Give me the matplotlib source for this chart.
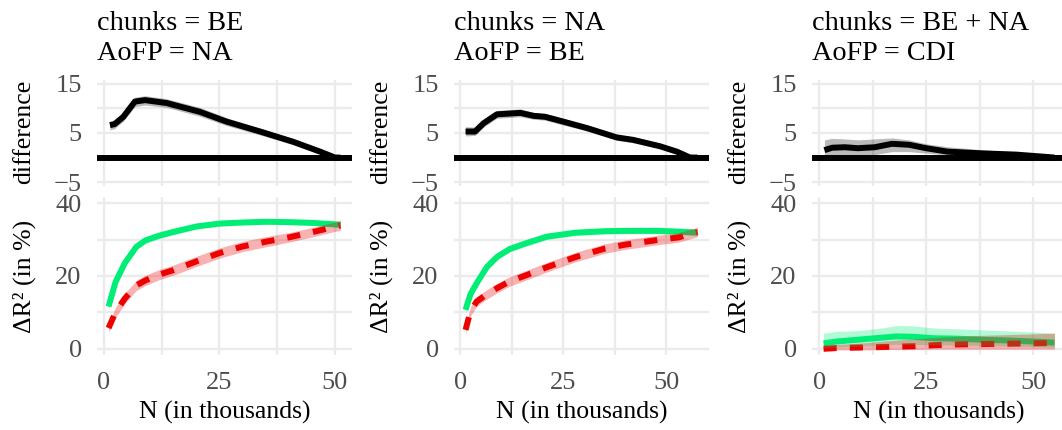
import matplotlib
matplotlib.use("Agg")
import matplotlib.pyplot as plt
import numpy as np

# ---------------- data ----------------
titles = [("chunks = BE", "AoFP = NA"),
          ("chunks = NA", "AoFP = BE"),
          ("chunks = BE + NA", "AoFP = CDI")]

# panel 1
n_diff_1 = [1.3, 2.3, 4.2, 6.7, 8.9, 13.6, 20.8, 26.6, 33.8, 41.0, 46.8, 50.0, 51.2]
diff_1 = [6.6, 6.8, 8.3, 11.4, 11.7, 11.1, 9.3, 7.3, 5.3, 3.2, 1.2, 0.0, 0.0]
diff_lo_1 = [5.6, 5.9, 7.4, 10.4, 10.7, 10.2, 8.4, 6.5, 4.6, 2.6, 0.7, -0.2, -0.2]
diff_hi_1 = [7.4, 7.7, 9.2, 12.3, 12.6, 12.0, 10.2, 8.1, 6.0, 3.8, 1.7, 0.3, 0.2]
n_1 = [1, 2.5, 4.5, 7, 9, 12, 15, 20, 25, 30, 35, 40, 45, 51.2]
green_1 = [11.6, 18.3, 23.5, 28.0, 29.8, 31.1, 32.1, 33.6, 34.4, 34.7, 34.9, 34.8, 34.6, 34.1]
green_lo_1 = [10.9, 17.5, 22.7, 27.2, 29.0, 30.3, 31.3, 32.9, 33.7, 34.0, 34.2, 34.1, 33.9, 33.3]
green_hi_1 = [12.3, 19.1, 24.3, 28.8, 30.6, 31.9, 32.9, 34.4, 35.2, 35.5, 35.6, 35.5, 35.3, 34.9]
red_1 = [5.7, 10.0, 13.8, 17.4, 18.8, 20.4, 21.6, 24.0, 26.3, 28.1, 29.4, 30.6, 32.0, 33.9]
red_lo_1 = [4.6, 8.6, 12.4, 16.0, 17.4, 19.0, 20.2, 22.6, 24.9, 26.7, 28.0, 29.3, 30.7, 32.6]
red_hi_1 = [6.8, 11.4, 15.2, 18.8, 20.2, 21.8, 23.0, 25.4, 27.7, 29.5, 30.8, 31.9, 33.3, 35.2]

# panel 2
n_diff_2 = [1.3, 3.6, 5.7, 8.9, 14.6, 17.8, 20.6, 25.1, 30.8, 38.0, 42.0, 48.5, 52.6, 55.8, 57.6]
diff_2 = [5.3, 5.3, 7.0, 8.8, 9.1, 8.5, 8.3, 7.3, 6.0, 4.1, 3.6, 2.3, 1.2, 0.0, 0.0]
diff_lo_2 = [4.4, 4.5, 6.2, 8.0, 8.3, 7.8, 7.6, 6.6, 5.4, 3.5, 3.0, 1.8, 0.7, -0.2, -0.2]
diff_hi_2 = [6.3, 6.2, 7.8, 9.6, 9.9, 9.2, 9.0, 8.0, 6.6, 4.7, 4.2, 2.8, 1.7, 0.3, 0.2]
n_2 = [1.3, 2.5, 4, 6.5, 9, 12, 16, 21, 28, 35, 40, 48, 53, 57.6]
green_2 = [10.7, 15.0, 18.0, 22.5, 25.3, 27.4, 29.0, 30.8, 31.9, 32.3, 32.4, 32.4, 32.2, 31.9]
green_lo_2 = [9.9, 14.2, 17.2, 21.7, 24.5, 26.6, 28.2, 30.0, 31.1, 31.5, 31.6, 31.6, 31.4, 31.1]
green_hi_2 = [11.5, 15.8, 18.8, 23.3, 26.1, 28.2, 29.8, 31.6, 32.7, 33.1, 33.2, 33.2, 33.0, 32.7]
red_2 = [5.2, 10.3, 13.0, 15.0, 16.7, 18.5, 20.2, 22.4, 25.2, 27.5, 28.6, 29.9, 30.6, 32.1]
red_lo_2 = [4.1, 9.0, 11.7, 13.7, 15.4, 17.2, 18.9, 21.1, 23.9, 26.2, 27.3, 28.6, 29.3, 30.8]
red_hi_2 = [6.3, 11.6, 14.3, 16.3, 18.0, 19.8, 21.5, 23.7, 26.5, 28.8, 29.9, 31.2, 31.9, 33.4]

# panel 3
n_diff_3 = [1.2, 3, 6, 9, 13, 17, 21, 25, 30, 38, 46, 55]
diff_3 = [1.5, 2.0, 2.1, 1.9, 2.1, 2.8, 2.6, 1.9, 1.2, 0.85, 0.6, 0.0]
diff_lo_3 = [0.0, 0.2, 0.5, 0.4, 0.6, 1.2, 1.2, 0.9, 0.5, 0.3, 0.2, 0.0]
diff_hi_3 = [3.6, 3.9, 3.8, 3.6, 3.8, 4.0, 3.6, 2.8, 2.2, 1.6, 1.0, 0.2]
n_3 = [1, 4, 7, 11, 15, 18, 22, 27, 32, 38, 44, 50, 55]
green_3 = [1.5, 2.0, 2.3, 2.7, 3.1, 3.4, 3.3, 2.9, 2.8, 2.5, 2.3, 2.0, 1.7]
green_lo_3 = [0.3, 0.5, 0.6, 0.8, 1.0, 1.2, 1.2, 1.1, 1.0, 0.9, 0.8, 0.6, 0.4]
green_hi_3 = [4.3, 4.8, 4.9, 5.2, 5.8, 6.4, 6.3, 5.7, 5.5, 5.2, 4.9, 4.6, 4.3]
red_3 = [0.0, 0.2, 0.3, 0.4, 0.5, 0.6, 0.7, 1.0, 1.2, 1.3, 1.4, 1.5, 1.6]
red_lo_3 = [-0.3, -0.3, -0.3, -0.3, -0.2, -0.2, -0.2, -0.1, -0.1, -0.1, -0.1, -0.1, -0.1]
red_hi_3 = [0.9, 1.2, 1.4, 1.7, 2.1, 2.4, 2.7, 3.1, 3.4, 3.7, 3.9, 4.1, 4.3]

panels = [
    dict(nd=n_diff_1, d=diff_1, dlo=diff_lo_1, dhi=diff_hi_1, n=n_1,
         g=green_1, glo=green_lo_1, ghi=green_hi_1, r=red_1, rlo=red_lo_1, rhi=red_hi_1,
         xlim=(-1.5, 53.7)),
    dict(nd=n_diff_2, d=diff_2, dlo=diff_lo_2, dhi=diff_hi_2, n=n_2,
         g=green_2, glo=green_lo_2, ghi=green_hi_2, r=red_2, rlo=red_lo_2, rhi=red_hi_2,
         xlim=(-1.5, 60.4)),
    dict(nd=n_diff_3, d=diff_3, dlo=diff_lo_3, dhi=diff_hi_3, n=n_3,
         g=green_3, glo=green_lo_3, ghi=green_hi_3, r=red_3, rlo=red_lo_3, rhi=red_hi_3,
         xlim=(-1.7, 57.7)),
]

x_major = [0, 25, 50]
x_minor = [12.5, 37.5]
diff_major = [-5, 5, 15]
diff_minor = [0, 10]
r2_major = [0, 20, 40]
r2_minor = [10, 30]

GREEN = "#00EE76"
RED = "#EE0000"
GRID = "#EBEBEB"
TICKC = "#4D4D4D"
FS_TICK = 19
FS_AXT = 18.5
FS_TITLE = 20.3

plt.rcParams["font.family"] = ["Liberation Serif", "DejaVu Serif"]
plt.rcParams["lines.solid_capstyle"] = "butt"
plt.rcParams["lines.dash_capstyle"] = "butt"

W, H = 1062, 430
fig = plt.figure(figsize=(W / 100, H / 100), dpi=100)


def add_ax(l, t, r, b):
    return fig.add_axes([l / W, 1 - b / H, (r - l) / W, (b - t) / H])


def style(ax, ymaj, ymin, show_x):
    for s in ax.spines.values():
        s.set_visible(False)
    ax.set_xticks(x_major)
    ax.set_xticks(x_minor, minor=True)
    ax.set_yticks(ymaj)
    ax.set_yticks(ymin, minor=True)
    ax.grid(which="both", color=GRID, lw=1.7, zorder=0)
    ax.set_axisbelow(True)
    ax.tick_params(which="both", length=0)
    ax.tick_params(axis="y", labelsize=FS_TICK, labelcolor=TICKC, pad=11)
    ax.tick_params(axis="x", labelsize=FS_TICK, labelcolor=TICKC, pad=12)
    if not show_x:
        ax.set_xticklabels([])
    else:
        ax.set_xticklabels([str(v) for v in x_major])
    ax.set_yticklabels([("\u2212" + str(-v)) if v < 0 else str(v) for v in ymaj])


lefts = [97, 454, 812]
rights = [352, 709, 1066]
LW = 4.3

for i, p in enumerate(panels):
    l, r = lefts[i], rights[i]
    # top: difference
    ax1 = add_ax(l, 80, r, 186)
    style(ax1, diff_major, diff_minor, False)
    ax1.axhline(0, color="black", lw=LW, zorder=2)
    ax1.plot(p["nd"], p["d"], color="black", lw=LW, zorder=3)
    ax1.fill_between(p["nd"], p["dlo"], p["dhi"], color="black", alpha=0.27, lw=0, zorder=4)
    ax1.set_xlim(*p["xlim"])
    ax1.set_ylim(-5.8, 15.8)

    # bottom: delta R2
    ax2 = add_ax(l, 197, r, 355)
    style(ax2, r2_major, r2_minor, True)
    ax2.plot(p["n"], p["g"], color=GREEN, lw=LW, zorder=3)
    ax2.plot(p["n"], p["r"], color=RED, lw=LW, dashes=(2.2, 2.2), zorder=3)
    ax2.fill_between(p["n"], p["glo"], p["ghi"], color=GREEN, alpha=0.3, lw=0, zorder=4)
    ax2.fill_between(p["n"], p["rlo"], p["rhi"], color=RED, alpha=0.3, lw=0, zorder=4)
    ax2.set_xlim(*p["xlim"])
    ax2.set_ylim(-1.7, 41.7)

    # titles
    fig.text(l / W, 1 - 30 / H, titles[i][0], fontsize=FS_TITLE, ha="left", va="baseline")
    fig.text(l / W, 1 - 60 / H, titles[i][1], fontsize=FS_TITLE, ha="left", va="baseline")
    # axis titles
    fig.text((l - 73) / W, 1 - 132 / H, "difference", fontsize=FS_AXT, rotation=90,
             ha="center", va="center")
    fig.text((l - 73) / W, 1 - 276 / H, "\u0394R\u00b2 (in %)", fontsize=FS_AXT, rotation=90,
             ha="center", va="center")
    fig.text(((l + r) / 2) / W, 1 - 419 / H, "N (in thousands)", fontsize=FS_AXT,
             ha="center", va="baseline")

fig.savefig("out.png", dpi=100, facecolor="white")
